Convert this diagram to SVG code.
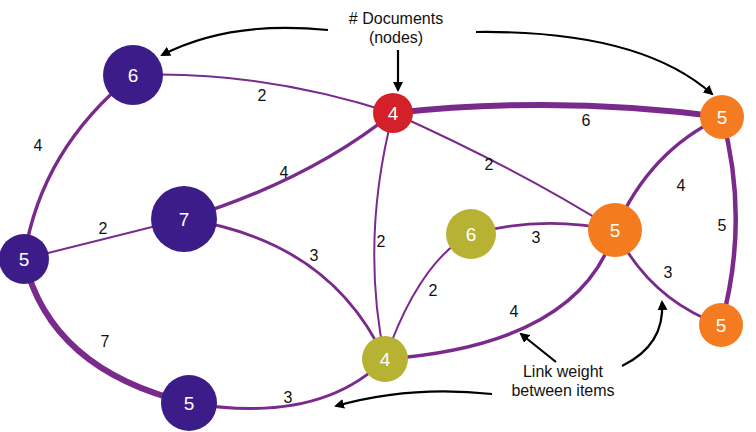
<svg xmlns="http://www.w3.org/2000/svg" width="756" height="432" viewBox="0 0 756 432">
<style>
.e{fill:none;stroke:#7a2a8c}
.n text,.l{font-family:"Liberation Sans",Arial,sans-serif}
.n text{fill:#fff;font-size:19px;text-anchor:middle}
.l{font-size:16px;fill:#111;text-anchor:middle}
.a{fill:none;stroke:#000;stroke-width:2.2}
.p{fill:#3b1c88}.r{fill:#d42129}.o{fill:#f47b20}.y{fill:#b7b234}
</style>
<defs><marker id="ah" markerWidth="10" markerHeight="10" refX="8" refY="5" orient="auto" markerUnits="userSpaceOnUse"><path d="M0,0L10,5L0,10z" fill="#000"/></marker></defs>
<g id="edges">
<path class="e" stroke-width="2" d="M133,75 Q260,70 393,113"/>
<path class="e" stroke-width="3.5" d="M133,75 Q40,150 24,259"/>
<path class="e" stroke-width="2" d="M24,259 L184,219"/>
<path class="e" stroke-width="3.5" d="M184,219 Q310,180 393,113"/>
<path class="e" stroke-width="6" d="M393,113 Q560,95 722,117"/>
<path class="e" stroke-width="2" d="M393,113 Q520,170 615,230"/>
<path class="e" stroke-width="2" d="M393,113 Q360,240 385,359"/>
<path class="e" stroke-width="2.8" d="M184,219 Q330,240 385,359"/>
<path class="e" stroke-width="2.8" d="M471,234 Q540,215 615,230"/>
<path class="e" stroke-width="2" d="M471,234 Q420,260 385,359"/>
<path class="e" stroke-width="3.5" d="M385,359 Q580,345 615,230"/>
<path class="e" stroke-width="3.5" d="M615,230 Q650,150 722,117"/>
<path class="e" stroke-width="2.8" d="M615,230 Q650,300 721,325"/>
<path class="e" stroke-width="4.5" d="M722,117 Q750,220 721,325"/>
<path class="e" stroke-width="6" d="M24,259 Q50,370 189,403"/>
<path class="e" stroke-width="2.8" d="M189,403 Q320,425 385,359"/>
</g>
<g id="labels">
<text class="l" x="262" y="101">2</text>
<text class="l" x="38" y="151">4</text>
<text class="l" x="103" y="234">2</text>
<text class="l" x="284" y="178">4</text>
<text class="l" x="586" y="126">6</text>
<text class="l" x="489" y="170">2</text>
<text class="l" x="381" y="247">2</text>
<text class="l" x="314" y="261">3</text>
<text class="l" x="536" y="243">3</text>
<text class="l" x="433" y="296">2</text>
<text class="l" x="514" y="317">4</text>
<text class="l" x="681" y="191">4</text>
<text class="l" x="668" y="278">3</text>
<text class="l" x="722" y="231">5</text>
<text class="l" x="105" y="347">7</text>
<text class="l" x="288" y="403">3</text>
<text class="l" x="396" y="24">#<tspan x="396" dy="0"/> Documents</text>
<text class="l" x="396" y="43">(nodes)</text>
<text class="l" x="563" y="377">Link weight</text>
<text class="l" x="563" y="396">between items</text>
</g>
<g id="arrows">
<path class="a" marker-end="url(#ah)" d="M328,30 Q230,20 162,55"/>
<path class="a" marker-end="url(#ah)" d="M398,50 L398,90"/>
<path class="a" marker-end="url(#ah)" d="M476,32 Q640,30 712,94"/>
<path class="a" marker-end="url(#ah)" d="M492,394 Q410,385 336,406"/>
<path class="a" marker-end="url(#ah)" d="M556,362 L521,334"/>
<path class="a" marker-end="url(#ah)" d="M622,366 Q665,345 662,302"/>
</g>
<g id="n1" class="n"><circle class="p" cx="133" cy="75" r="30"/><text x="133" y="82">6</text></g>
<g id="n2" class="n"><circle class="r" cx="393" cy="113" r="20"/><text x="393" y="120">4</text></g>
<g id="n3" class="n"><circle class="o" cx="722" cy="117" r="22"/><text x="722" y="124">5</text></g>
<g id="n4" class="n"><circle class="p" cx="184" cy="219" r="33"/><text x="184" y="226">7</text></g>
<g id="n5" class="n"><circle class="p" cx="24" cy="259" r="25"/><text x="24" y="266">5</text></g>
<g id="n6" class="n"><circle class="y" cx="471" cy="234" r="25"/><text x="471" y="241">6</text></g>
<g id="n7" class="n"><circle class="o" cx="615" cy="230" r="27"/><text x="615" y="237">5</text></g>
<g id="n8" class="n"><circle class="o" cx="721" cy="325" r="22"/><text x="721" y="332">5</text></g>
<g id="n9" class="n"><circle class="y" cx="385" cy="359" r="23"/><text x="385" y="366">4</text></g>
<g id="n10" class="n"><circle class="p" cx="189" cy="403" r="28"/><text x="189" y="410">5</text></g>
</svg>
